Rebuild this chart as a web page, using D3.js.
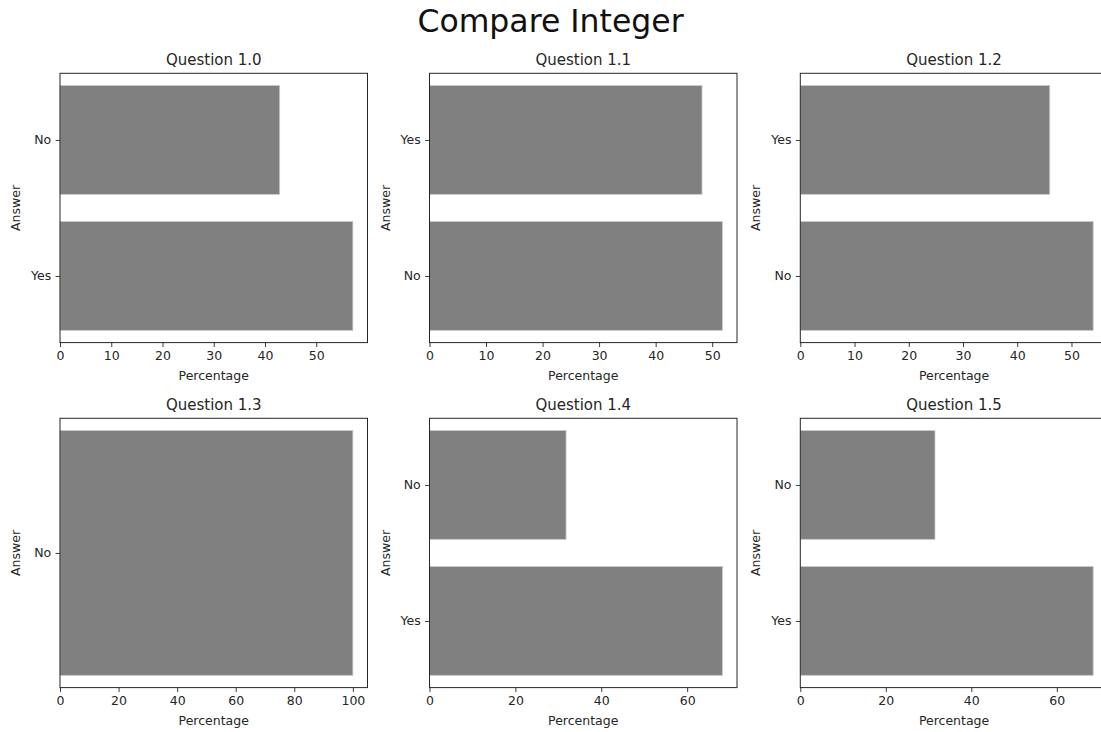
<!DOCTYPE html>
<html>
<head>
<meta charset="utf-8">
<script src="https://cdn.jsdelivr.net/npm/d3@7"></script>
<style>
  html, body { margin: 0; padding: 0; background: #fff; }
  svg { display: block; font-family: "DejaVu Sans", sans-serif; }
</style>
</head>
<body>
<svg id="chart" width="1101" height="732"></svg>
<script>
// Survey results: share of answers per question (percent)
const questions = ["Question 1.0", "Question 1.1", "Question 1.2", "Question 1.3", "Question 1.4", "Question 1.5"];
const answers = [
  ["No", "Yes"],
  ["Yes", "No"],
  ["Yes", "No"],
  ["No"],
  ["No", "Yes"],
  ["No", "Yes"]
];
const percentages = [
  [42.86, 57.14],
  [48.2, 51.8],
  [46.0, 54.0],
  [100],
  [31.8, 68.2],
  [31.5, 68.5]
];
const xTicks = [
  [0, 10, 20, 30, 40, 50],
  [0, 10, 20, 30, 40, 50],
  [0, 10, 20, 30, 40, 50],
  [0, 20, 40, 60, 80, 100],
  [0, 20, 40, 60],
  [0, 20, 40, 60]
];
const figureTitle = "Compare Integer";
const xLabel = "Percentage";
const yLabel = "Answer";

const svg = d3.select("#chart");
const ink = "#262626";
const barFill = "#808080";

// grid geometry
const colLeft = [60, 429.5, 800.3];
const rowTop = [73.3, 418.3];
const pw = 307.5, ph = 269.3;
const tickLen = 4.4, tickPad = 4.4;

svg.append("text")
  .attr("x", 550.5).attr("y", 32)
  .attr("text-anchor", "middle")
  .attr("font-size", 31.5)
  .attr("fill", "#111")
  .text(figureTitle);

questions.forEach((q, i) => {
  const cats = answers[i];
  const vals = percentages[i];
  const left = colLeft[i % 3], top = rowTop[Math.floor(i / 3)];
  const g = svg.append("g").attr("transform", `translate(${left},${top})`);

  // x: 0 .. max with 5% headroom
  const x = d3.scaleLinear().domain([0, d3.max(vals) * 1.05]).range([0, pw]);
  // y: category index, bars 0.8 wide, 5% margin around the bar extent
  const lo = -0.4, hi = cats.length - 1 + 0.4, m = (hi - lo) * 0.05;
  const y = d3.scaleLinear().domain([lo - m, hi + m]).range([0, ph]);

  g.selectAll("rect.bar")
    .data(vals)
    .join("rect")
    .attr("class", "bar")
    .attr("x", x(0))
    .attr("y", (d, k) => y(k - 0.4))
    .attr("width", d => x(d) - x(0))
    .attr("height", (d, k) => y(k + 0.4) - y(k - 0.4))
    .attr("fill", barFill)
    .attr("stroke", "#c8c8c8")
    .attr("stroke-width", 0.8);

  // x axis
  const xAxis = d3.axisBottom(x).tickValues(xTicks[i]).tickFormat(d3.format("d"))
    .tickSizeInner(tickLen).tickSizeOuter(0).tickPadding(tickPad);
  const gx = g.append("g").attr("transform", `translate(0,${ph})`).call(xAxis);
  gx.select(".domain").remove();
  gx.selectAll("line").attr("stroke", ink).attr("stroke-width", 0.9);
  gx.selectAll("text").attr("fill", ink).attr("font-size", 12.5).attr("font-family", "DejaVu Sans");

  // y axis
  const yAxis = d3.axisLeft(y).tickValues(d3.range(cats.length)).tickFormat(k => cats[k])
    .tickSizeInner(tickLen).tickSizeOuter(0).tickPadding(tickPad);
  const gy = g.append("g").call(yAxis);
  gy.select(".domain").remove();
  gy.selectAll("line").attr("stroke", ink).attr("stroke-width", 0.9);
  gy.selectAll("text").attr("fill", ink).attr("font-size", 12.5).attr("font-family", "DejaVu Sans");

  // frame
  g.append("rect")
    .attr("x", 0).attr("y", 0).attr("width", pw).attr("height", ph)
    .attr("fill", "none").attr("stroke", ink).attr("stroke-width", 1);

  // titles and labels
  g.append("text")
    .attr("x", pw / 2).attr("y", -8)
    .attr("text-anchor", "middle").attr("font-size", 15).attr("fill", ink)
    .text(q);
  g.append("text")
    .attr("x", pw / 2).attr("y", ph + 37)
    .attr("text-anchor", "middle").attr("font-size", 12.5).attr("fill", ink)
    .text(xLabel);
  g.append("text")
    .attr("transform", `translate(-40,${ph / 2}) rotate(-90)`)
    .attr("text-anchor", "middle").attr("font-size", 12.5).attr("fill", ink)
    .text(yLabel);
});
</script>
</body>
</html>
